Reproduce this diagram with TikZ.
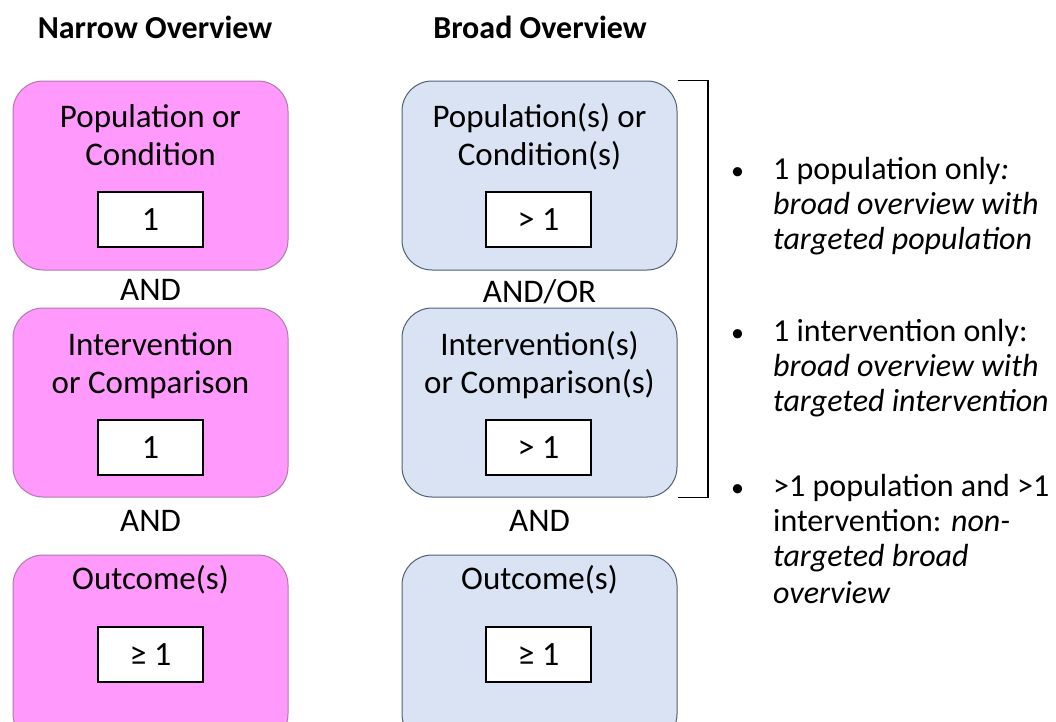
\documentclass[tikz,border=0pt]{standalone}
\usepackage{fontspec}
\setmainfont{Carlito}
\definecolor{pinkfill}{HTML}{FF99FC}
\definecolor{pinkline}{HTML}{B07AB0}
\definecolor{bluefill}{HTML}{DAE3F3}
\definecolor{blueline}{HTML}{4F5F75}
\begin{document}
\begin{tikzpicture}[x=1pt,y=1pt,
  bigbox/.style={rounded corners=30pt, minimum width=275pt, minimum height=189pt, line width=1pt, inner sep=0pt},
  pinkbox/.style={bigbox, fill=pinkfill, draw=pinkline},
  bluebox/.style={bigbox, fill=bluefill, draw=blueline},
  numbox/.style={draw=black, fill=white, line width=1.2pt, minimum width=105pt, minimum height=55pt, inner sep=0pt, font=\fontsize{34}{38}\selectfont},
  txt/.style={anchor=base, inner sep=0pt, font=\fontsize{33}{38}\selectfont},
  ttl/.style={anchor=base, inner sep=0pt, font=\fontsize{32}{36}\selectfont\bfseries},
  bul/.style={anchor=base west, inner sep=0pt, font=\fontsize{32}{38}\selectfont},
  dot/.style={anchor=base west, inner sep=0pt, font=\fontsize{26}{30}\selectfont}]
\path[use as bounding box] (0,0) rectangle (1056,-721);
\clip (0,0) rectangle (1056,-721);
% titles
\node[ttl] (t1) at (155,-38) {Narrow Overview};
\node[ttl] (t2) at (540,-38) {Broad Overview};
% pink column
\node[pinkbox] (p1) at (150.5,-175.5) {};
\node[pinkbox] (p2) at (150.5,-402.5) {};
\node[pinkbox] (p3) at (150.5,-649.5) {};
\node[txt] (p1a) at (150.5,-127) {Population or};
\node[txt] (p1b) at (150.5,-165) {Condition};
\node[numbox] (p1n) at (150.5,-219.5) {1};
\node[txt] (pand1) at (150.5,-300) {AND};
\node[txt] (p2a) at (150.5,-355) {Intervention};
\node[txt] (p2b) at (150.5,-393) {or Comparison};
\node[numbox] (p2n) at (150.5,-447.5) {1};
\node[txt] (pand2) at (150.5,-531) {AND};
\node[txt] (p3a) at (150.5,-589) {Outcome(s)};
\node[numbox] (p3n) at (150.5,-654.5) {≥ 1};
% blue column
\node[bluebox] (b1) at (539.5,-175.5) {};
\node[bluebox] (b2) at (539.5,-402.5) {};
\node[bluebox] (b3) at (539.5,-649.5) {};
\node[txt] (b1a) at (539.5,-127) {Population(s) or};
\node[txt] (b1b) at (539.5,-165) {Condition(s)};
\node[numbox] (b1n) at (538.5,-219.5) {> 1};
\node[txt] (band1) at (539.5,-302) {AND/OR};
\node[txt] (b2a) at (539.5,-355) {Intervention(s)};
\node[txt] (b2b) at (539.5,-393) {or Comparison(s)};
\node[numbox] (b2n) at (538.5,-447.5) {> 1};
\node[txt] (band2) at (539.5,-531) {AND};
\node[txt] (b3a) at (539.5,-589) {Outcome(s)};
\node[numbox] (b3n) at (538.5,-654.5) {≥ 1};
% bracket
\coordinate (bk) at (708,0);
\draw[line width=1.5pt] (b1.north east) -- (b1.north east -| bk) -- (b2.south east -| bk) -- (b2.south east);
% bullets
\node[dot] (d1) at (731,-179) {•};
\node[bul] (l11) at (773,-179) {1 population only\textit{:}};
\node[bul] (l12) at (773,-214) {\textit{broad overview with}};
\node[bul] (l13) at (773,-249) {\textit{targeted population}};
\node[dot] (d2) at (731,-341) {•};
\node[bul] (l21) at (773,-341) {1 intervention only:};
\node[bul] (l22) at (773,-376) {\textit{broad overview with}};
\node[bul] (l23) at (773,-411) {\textit{targeted intervention}};
\node[dot] (d3) at (731,-496) {•};
\node[bul] (l31) at (773,-496) {>1 population and >1};
\node[bul] (l32) at (773,-531) {intervention: \textit{non-}};
\node[bul] (l33) at (773,-566) {\textit{targeted broad}};
\node[bul] (l34) at (773,-603) {\textit{overview}};
\end{tikzpicture}
\end{document}
